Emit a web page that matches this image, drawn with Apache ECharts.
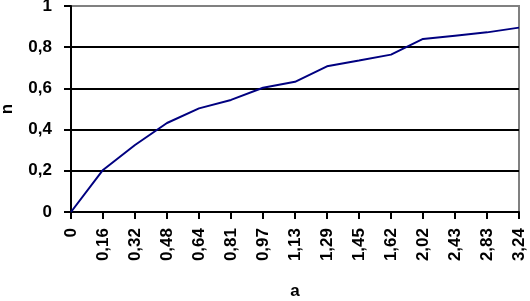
<!DOCTYPE html>
<html>
<head>
<meta charset="utf-8">
<script src="https://cdn.jsdelivr.net/npm/echarts@6/dist/echarts.min.js"></script>
<style>html,body{margin:0;padding:0;background:#fff;}#c{width:530px;height:301px;}</style>
</head>
<body>
<div id="c"></div>
<script>
const categories = ["0","0,16","0,32","0,48","0,64","0,81","0,97","1,13","1,29","1,45","1,62","2,02","2,43","2,83","3,24"];
const nValues = [0, 0.204, 0.325, 0.432, 0.503, 0.544, 0.603, 0.632, 0.707, 0.735, 0.764, 0.84, 0.856, 0.872, 0.895];
const yTicks = [0, 0.2, 0.4, 0.6, 0.8, 1];

const font = {fontFamily: 'Liberation Sans, Arial, sans-serif', fontSize: 17, fontWeight: 'bold', color: '#000'};
const chart = echarts.init(document.getElementById('c'), null, {renderer: 'canvas'});
chart.setOption({
  animation: false,
  backgroundColor: '#fff',
  grid: {left: 71, right: 11, top: 6, bottom: 89, containLabel: false, outerBoundsMode: 'none', show: true, borderColor: '#808080', borderWidth: 2, backgroundColor: 'transparent'},
  xAxis: {
    type: 'category',
    data: categories,
    boundaryGap: false,
    name: 'a',
    nameLocation: 'middle',
    nameGap: 71,
    nameTextStyle: font,
    axisLine: {lineStyle: {color: '#000', width: 2}},
    axisTick: {show: true, length: 7, lineStyle: {color: '#000', width: 2}, alignWithLabel: true},
    axisLabel: Object.assign({rotate: 90, margin: 16, interval: 0}, font),
    splitLine: {show: false}
  },
  yAxis: {
    type: 'value',
    min: yTicks[0],
    max: yTicks[yTicks.length - 1],
    interval: 0.2,
    name: 'n',
    nameLocation: 'middle',
    nameRotate: 90,
    nameGap: 55,
    nameTextStyle: font,
    axisLine: {show: true, lineStyle: {color: '#000', width: 2}},
    axisTick: {show: true, length: 7, lineStyle: {color: '#000', width: 2}},
    axisLabel: Object.assign({margin: 19, formatter: v => String(Math.round(v * 10) / 10).replace('.', ',')}, font),
    splitLine: {show: true, lineStyle: {color: ['#000', '#000', '#000', '#000', '#000', '#808080'], width: 2}}
  },
  series: [{
    type: 'line',
    data: nValues,
    showSymbol: false,
    symbol: 'none',
    lineStyle: {color: '#000080', width: 2},
    itemStyle: {color: '#000080'}
  }]
});
</script>
</body>
</html>
